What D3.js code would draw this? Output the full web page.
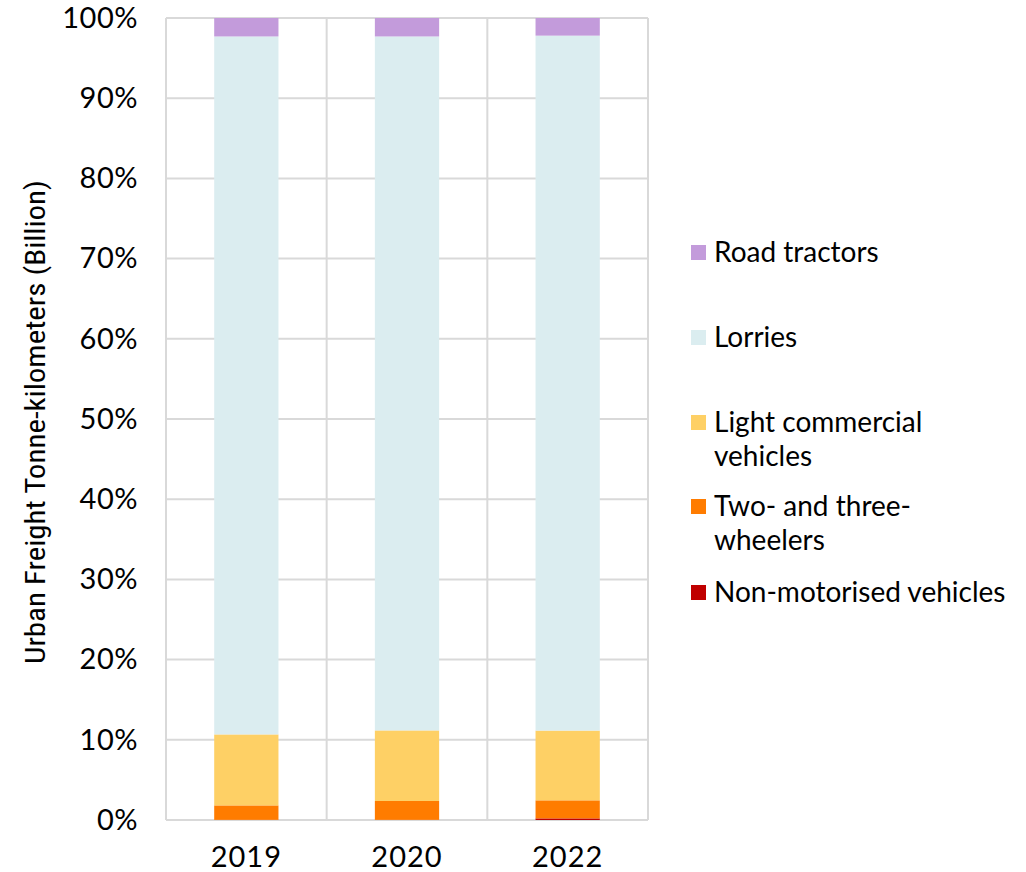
<!DOCTYPE html>
<html>
<head>
<meta charset="utf-8">
<script src="https://cdn.jsdelivr.net/npm/d3@7"></script>
<style>
  html, body { margin: 0; padding: 0; background: #ffffff; }
  svg { display: block; }
  text { font-family: "Century Gothic", Lato, sans-serif; fill: #000; }
</style>
</head>
<body>
<svg id="chart" width="1026" height="872"></svg>
<script>
// Share of urban freight tonne-kilometres by vehicle type (%)
const years = ["2019", "2020", "2022"];
const seriesNames = ["Non-motorised vehicles", "Two- and three-wheelers", "Light commercial vehicles", "Lorries", "Road tractors"];
const nonMotorised = [0.02, 0.02, 0.2];
const twoThreeWheelers = [1.8, 2.35, 2.25];
const lightCommercial = [8.85, 8.8, 8.7];
const lorries = [87.03, 86.53, 86.65];
const roadTractors = [2.3, 2.3, 2.2];
const yTicks = [0, 10, 20, 30, 40, 50, 60, 70, 80, 90, 100];
const yTitle = "Urban Freight Tonne-kilometers (Billion)";

const colors = {
  "Non-motorised vehicles": "#c00000",
  "Two- and three-wheelers": "#ff7c00",
  "Light commercial vehicles": "#fed065",
  "Lorries": "#dbedf0",
  "Road tractors": "#c39bdb"
};

const rows = years.map((y, i) => ({
  year: y,
  "Non-motorised vehicles": nonMotorised[i],
  "Two- and three-wheelers": twoThreeWheelers[i],
  "Light commercial vehicles": lightCommercial[i],
  "Lorries": lorries[i],
  "Road tractors": roadTractors[i]
}));

const svg = d3.select("#chart");
const plot = { left: 166, right: 648, top: 18, bottom: 820 };

const x = d3.scaleBand().domain(years).range([plot.left, plot.right]).paddingInner(0.6).paddingOuter(0.3);
const xCell = d3.scaleBand().domain(years).range([plot.left, plot.right]);
const y = d3.scaleLinear().domain([0, 100]).range([plot.bottom, plot.top]);

const gridColor = "#d9d9d9";
const grid = svg.append("g");
// horizontal gridlines
grid.selectAll("line.h").data(yTicks).join("line")
  .attr("x1", plot.left).attr("x2", plot.right)
  .attr("y1", d => y(d)).attr("y2", d => y(d))
  .attr("stroke", gridColor).attr("stroke-width", 2);
// vertical separators between categories plus frame sides
const vLines = years.map(d => xCell(d)).concat([plot.right]);
grid.selectAll("line.v").data(vLines).join("line")
  .attr("x1", d => d).attr("x2", d => d)
  .attr("y1", plot.top).attr("y2", plot.bottom)
  .attr("stroke", gridColor).attr("stroke-width", 2);

const stack = d3.stack().keys(seriesNames)(rows);
svg.append("g").selectAll("g").data(stack).join("g")
  .attr("fill", d => colors[d.key])
  .selectAll("rect").data(d => d).join("rect")
  .attr("x", d => x(d.data.year))
  .attr("width", x.bandwidth())
  .attr("y", d => y(d[1]))
  .attr("height", d => y(d[0]) - y(d[1]));

// y axis tick labels
const yAxis = d3.axisLeft(y).tickValues(yTicks).tickFormat(d => d + "%").tickSize(0).tickPadding(28);
svg.append("g").attr("transform", `translate(${plot.left},0)`).call(yAxis)
  .call(g => g.select(".domain").remove())
  .selectAll("text").attr("font-size", 29).attr("font-family", null).attr("fill", "#000")
  .style("letter-spacing", "0.5px");

// x axis labels
const xAxis = d3.axisBottom(xCell).tickSize(0).tickPadding(26);
svg.append("g").attr("transform", `translate(0,${plot.bottom})`).call(xAxis)
  .call(g => g.select(".domain").remove())
  .selectAll("text").attr("font-size", 29).attr("font-family", null).attr("fill", "#000")
  .style("letter-spacing", "1px");

// y axis title
svg.append("text")
  .attr("transform", `translate(45,${(plot.top + plot.bottom) / 2 + 3}) rotate(-90)`)
  .attr("text-anchor", "middle")
  .attr("font-size", 28)
  .attr("textLength", 484)
  .attr("lengthAdjust", "spacingAndGlyphs")
  .style("font-family", "'Liberation Sans Narrow', 'Roboto Condensed', sans-serif")
  .text(yTitle);

// legend (top to bottom mirrors the stack order)
const legendItems = [
  { key: "Road tractors", lines: ["Road tractors"], y: 253 },
  { key: "Lorries", lines: ["Lorries"], y: 338 },
  { key: "Light commercial vehicles", lines: ["Light commercial", "vehicles"], y: 423 },
  { key: "Two- and three-wheelers", lines: ["Two- and three-", "wheelers"], y: 507 },
  { key: "Non-motorised vehicles", lines: ["Non-motorised vehicles"], y: 593 }
];
const legend = svg.append("g");
legendItems.forEach(item => {
  legend.append("rect")
    .attr("x", 691).attr("y", item.y - 8)
    .attr("width", 15).attr("height", 15)
    .attr("fill", colors[item.key]);
  const t = legend.append("text").attr("x", 714).attr("y", item.y + 9).attr("font-size", 28);
  item.lines.forEach((ln, i) => {
    t.append("tspan").attr("x", 714).attr("dy", i === 0 ? 0 : 34).text(ln);
  });
});
</script>
</body>
</html>
